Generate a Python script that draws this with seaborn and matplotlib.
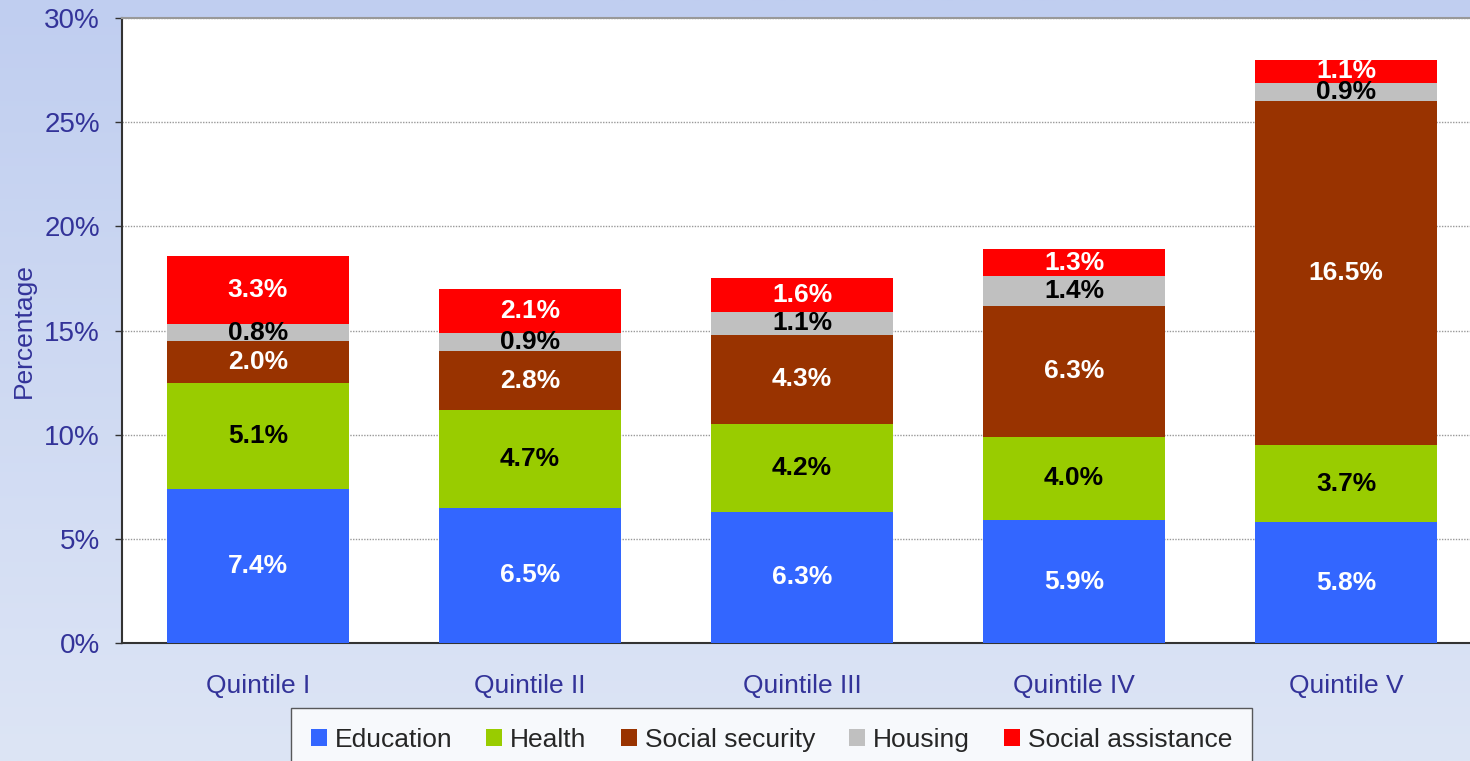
import numpy as np
import pandas as pd
import matplotlib
matplotlib.use("Agg")
import matplotlib.pyplot as plt
from matplotlib.patches import Patch
from matplotlib.colors import LinearSegmentedColormap
import seaborn as sns

################ DATA ################
quintiles = ['Quintile I', 'Quintile II', 'Quintile III', 'Quintile IV', 'Quintile V']
series = ['Education', 'Health', 'Social security', 'Housing', 'Social assistance']
education = [7.4, 6.5, 6.3, 5.9, 5.8]
health = [5.1, 4.7, 4.2, 4.0, 3.7]
social_security = [2.0, 2.8, 4.3, 6.3, 16.5]
housing = [0.8, 0.9, 1.1, 1.4, 0.9]
social_assistance = [3.3, 2.1, 1.6, 1.3, 1.1]
y_ticks = [0, 5, 10, 15, 20, 25, 30]

colors = ['#3366FF', '#99CC00', '#993300', '#C0C0C0', '#FF0000']
label_colors = ['white', 'black', 'white', 'black', 'white']

df = pd.DataFrame({
    'quintile': quintiles,
    'Education': education,
    'Health': health,
    'Social security': social_security,
    'Housing': housing,
    'Social assistance': social_assistance,
})
cum = df[series].cumsum(axis=1)

################ STYLE ################
sns.set_theme(style='white')
plt.rcParams['font.family'] = ['Liberation Sans', 'DejaVu Sans']
txt_blue = '#333399'

fig = plt.figure(figsize=(14.7, 7.61), dpi=100)

# gradient background
bg = fig.add_axes([0, 0, 1, 1], zorder=-10)
grad = LinearSegmentedColormap.from_list('bg', ['#C0CEF0', '#DDE5F5'])
bg.imshow(np.linspace(0, 1, 256).reshape(-1, 1), aspect='auto', cmap=grad,
          extent=[0, 1, 0, 1])
bg.set_axis_off()

ax = fig.add_axes([122 / 1470, 118 / 761, 1360 / 1470, 625 / 761])
ax.set_facecolor('white')

################ STACKED BARS (cumulative, drawn back to front) ################
for i in range(len(series) - 1, -1, -1):
    sns.barplot(x=df['quintile'], y=cum[series[i]], color=colors[i],
                width=0.67, saturation=1, ax=ax, zorder=3, edgecolor='none')

# value labels
for i, s in enumerate(series):
    bottoms = cum[s] - df[s]
    for j, v in enumerate(df[s]):
        ax.text(j, bottoms[j] + v / 2, f"{v:.1f}%", ha='center', va='center',
                color=label_colors[i], fontsize=19, fontweight='bold', zorder=5)

################ AXES ################
ax.set_xlim(-0.5, len(quintiles) - 0.5)
ax.set_ylim(0, 30)
ax.set_yticks(y_ticks)
ax.set_yticklabels([f"{t}%" for t in y_ticks])
ax.yaxis.grid(True, linestyle=(0, (1, 1)), color='#999999', linewidth=1, zorder=0)
ax.set_axisbelow(True)

ax.set_xticks(range(len(quintiles)))
ax.set_xticklabels(quintiles)
ax.set_xticks(np.arange(-0.5, len(quintiles), 1), minor=True)
ax.tick_params(axis='x', which='major', length=0, pad=22, labelsize=19, labelcolor=txt_blue)
ax.tick_params(axis='x', which='minor', length=5, width=1, color='#333333', direction='out')
ax.tick_params(axis='y', length=5, width=1, color='#333333', direction='out',
               left=True, pad=11, labelsize=20, labelcolor=txt_blue)

ax.set_xlabel('')
ax.set_ylabel('Percentage', fontsize=19, color=txt_blue, labelpad=6)

for side in ['left', 'bottom']:
    ax.spines[side].set_color('#333333')
    ax.spines[side].set_linewidth(1.5)
ax.spines['top'].set_color('#999999')
ax.spines['top'].set_linewidth(1.5)
ax.spines['right'].set_visible(False)

################ LEGEND ################
handles = [Patch(facecolor=c, edgecolor='none', label=s) for c, s in zip(colors, series)]
leg = fig.legend(handles=handles, loc='upper left', bbox_to_anchor=(291 / 1470, 1 - 708 / 761),
                 ncol=5, frameon=True, fancybox=False, fontsize=19,
                 handlelength=0.6, handleheight=0.6, handletextpad=0.3,
                 columnspacing=1.3, borderpad=0.75, borderaxespad=0)
leg.get_frame().set_edgecolor('#333333')
leg.get_frame().set_linewidth(1)
leg.get_frame().set_facecolor('white')

fig.savefig('out.png', dpi=100)
